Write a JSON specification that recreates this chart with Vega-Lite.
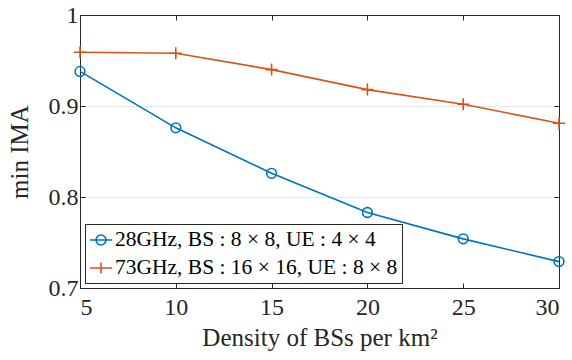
{
  "$schema": "https://vega.github.io/schema/vega-lite/v6.json",
  "width": 479,
  "height": 273,
  "autosize": "none",
  "padding": {"left": 80, "top": 15, "right": 13, "bottom": 72},
  "background": "white",
  "config": {
    "view": {"stroke": null},
    "font": "Liberation Serif",
    "axis": {"labelFont": "Liberation Serif", "titleFont": "Liberation Serif", "labelFontSize": 24, "titleFontSize": 25, "titleFontWeight": "normal", "labelColor": "#262626", "titleColor": "#262626", "domainColor": "#262626", "tickColor": "#262626", "tickSize": -5, "gridColor": "#e6e6e6"},
    "legend": {"labelFont": "Liberation Serif", "labelFontSize": 21.5, "labelColor": "#000"}
  },
  "data": {"values": [
    {"density": 5, "ima": 0.938, "series": "28GHz, BS : 8 × 8, UE : 4 × 4"},
    {"density": 10, "ima": 0.876, "series": "28GHz, BS : 8 × 8, UE : 4 × 4"},
    {"density": 15, "ima": 0.826, "series": "28GHz, BS : 8 × 8, UE : 4 × 4"},
    {"density": 20, "ima": 0.783, "series": "28GHz, BS : 8 × 8, UE : 4 × 4"},
    {"density": 25, "ima": 0.754, "series": "28GHz, BS : 8 × 8, UE : 4 × 4"},
    {"density": 30, "ima": 0.729, "series": "28GHz, BS : 8 × 8, UE : 4 × 4"},
    {"density": 5, "ima": 0.959, "series": "73GHz, BS : 16 × 16, UE : 8 × 8"},
    {"density": 10, "ima": 0.958, "series": "73GHz, BS : 16 × 16, UE : 8 × 8"},
    {"density": 15, "ima": 0.940, "series": "73GHz, BS : 16 × 16, UE : 8 × 8"},
    {"density": 20, "ima": 0.918, "series": "73GHz, BS : 16 × 16, UE : 8 × 8"},
    {"density": 25, "ima": 0.902, "series": "73GHz, BS : 16 × 16, UE : 8 × 8"},
    {"density": 30, "ima": 0.881, "series": "73GHz, BS : 16 × 16, UE : 8 × 8"}
  ]},
  "resolve": {"axis": {"x": "independent", "y": "independent"}},
  "layer": [
    {
      "mark": {"type": "line", "strokeWidth": 1.6},
      "encoding": {
        "x": {"field": "density", "type": "quantitative", "scale": {"domain": [5, 30], "nice": false},
              "axis": {"orient": "bottom", "values": [5, 10, 15, 20, 25, 30], "grid": false, "title": "Density of BSs per km²", "labelPadding": 12, "titlePadding": 6}},
        "y": {"field": "ima", "type": "quantitative", "scale": {"domain": [0.7, 1], "nice": false, "zero": false},
              "axis": {"orient": "left", "values": [0.7, 0.8, 0.9, 1], "format": ".1~f", "grid": true, "title": "min IMA", "labelPadding": 7, "titlePadding": 16}},
        "color": {"field": "series", "type": "nominal", "scale": {"range": ["#0072BD", "#D95319"]},
                  "legend": {"title": null, "orient": "bottom-left", "offset": 5, "fillColor": "white", "strokeColor": "#262626", "padding": 4, "rowPadding": 5, "labelLimit": 0, "symbolSize": 484, "symbolStrokeWidth": 1.6, "labelOffset": 2,
                             "encode": {"symbols": {"update": {"opacity": {"value": 1}, "fill": {"value": "transparent"}, "strokeWidth": {"value": 1.6},
                               "shape": {"signal": "indexof(datum.value, '28GHz') === 0 ? 'M-1,0H1M-0.45,0A0.45,0.45 0 1,0 0.45,0A0.45,0.45 0 1,0 -0.45,0' : 'M-1,0H1M0,-0.5V0.5'"}}}}}}
      }
    },
    {
      "mark": {"type": "point", "filled": false, "strokeWidth": 1.6, "opacity": 1},
      "encoding": {
        "x": {"field": "density", "type": "quantitative", "axis": {"orient": "top", "values": [5, 10, 15, 20, 25, 30], "labels": false, "grid": false, "title": null}},
        "y": {"field": "ima", "type": "quantitative", "axis": {"orient": "right", "values": [0.7, 0.8, 0.9, 1], "labels": false, "grid": false, "title": null}},
        "color": {"field": "series", "type": "nominal"},
        "shape": {"field": "series", "type": "nominal", "scale": {"range": ["circle", "M-1,0H1M0,-1V1"]}, "legend": null},
        "size": {"field": "series", "type": "nominal", "scale": {"range": [95, 144]}, "legend": null}
      }
    }
  ]
}
